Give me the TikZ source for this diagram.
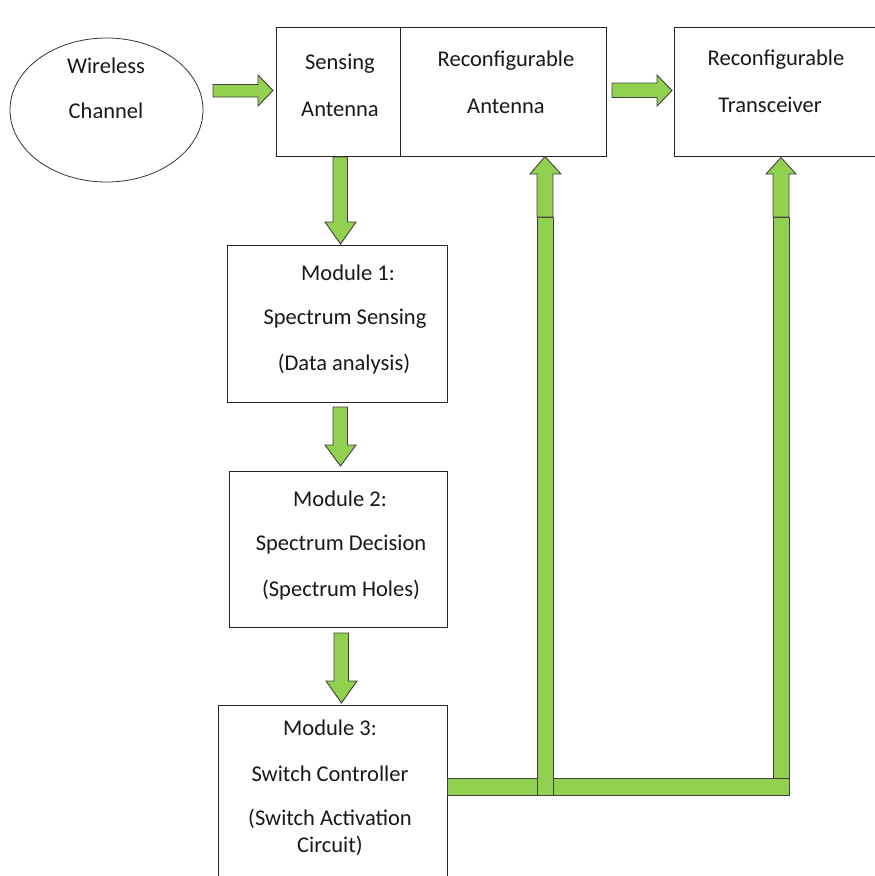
\documentclass[tikz,border=0pt]{standalone}
\usepackage{fontspec}
\setmainfont{Carlito}
\usetikzlibrary{shapes.geometric}
\definecolor{agreen}{HTML}{92D050}
\begin{document}
\begin{tikzpicture}[x=1pt,y=-1pt,
  box/.style={draw=black!85,line width=0.9pt,fill=white,inner sep=0pt,outer sep=0pt},
  blk/.style={fill=agreen,draw=black!75,line width=0.9pt,line join=miter},
  txt/.style={font=\fontsize{22.5}{28}\selectfont,inner sep=0pt,text=black!90,align=center}]
\useasboundingbox (0,0) rectangle (875,876);
% ellipse
\node[ellipse,draw=black!80,line width=0.8pt,minimum width=193pt,minimum height=144pt,inner sep=0pt] (wc) at (106.5,110) {};
\node[txt] (wc1) at (106,66) {Wireless};
\node[txt] (wc2) at (106,111) {Channel};
% top boxes
\node[box,minimum width=330pt,minimum height=129pt] (antbox) at (441,91.5) {};
\draw[black!85,line width=0.9pt] (antbox.north west) ++(124pt,0) coordinate (div) -- (div |- antbox.south);
\node[txt] (sa1) at (340,64) {Sensing};
\node[txt] (sa2) at (340,109) {Antenna};
\node[txt] (ra1) at (506,61) {Reconfigurable};
\node[txt] (ra2) at (506,106) {Antenna};
\node[box,minimum width=202pt,minimum height=129pt] (rtbox) at (775,91.5) {};
\node[txt] (rt1) at (776,60) {Reconfigurable};
\node[txt] (rt2) at (770,105) {Transceiver};
% modules
\node[box,minimum width=220pt,minimum height=157pt] (m1) at (337,323.5) {};
\node[txt] (m1a) at (348,273) {Module 1:};
\node[txt] (m1b) at (345,319) {Spectrum Sensing};
\node[txt] (m1c) at (344,364) {(Data analysis)};
\node[box,minimum width=218pt,minimum height=156pt] (m2) at (338,549) {};
\node[txt] (m2a) at (340,499) {Module 2:};
\node[txt] (m2b) at (341,545) {Spectrum Decision};
\node[txt] (m2c) at (341,590) {(Spectrum Holes)};
\node[box,minimum width=229pt,minimum height=175pt] (m3) at (332.5,792.5) {};
\node[txt] (m3a) at (330,728) {Module 3:};
\node[txt] (m3b) at (330,774) {Switch Controller};
\node[txt] (m3c) at (330,819) {(Switch Activation};
\node[txt] (m3d) at (330,846) {Circuit)};
% right arrows
\draw[blk] (213,84.5) -- (258,84.5) -- (258,75) -- (273,90.5) -- (258,106) -- (258,97) -- (213,97) -- cycle;
\draw[blk] (612,83) -- (657,83) -- (657,75) -- (672,90.5) -- (657,106) -- (657,97.5) -- (612,97.5) -- cycle;
% down arrows
\draw[blk] (333,157) -- (347.5,157) -- (347.5,222) -- (356,222) -- (340.5,244) -- (325,222) -- (333,222) -- cycle;
\draw[blk] (333,407) -- (347.5,407) -- (347.5,445) -- (356,445) -- (340.5,466) -- (325,445) -- (333,445) -- cycle;
\draw[blk] (334,633) -- (348.5,633) -- (348.5,681) -- (357,681) -- (341.5,703) -- (326,681) -- (334,681) -- cycle;
% feedback bars
\draw[blk] (447,778) rectangle (789,795);
\draw[blk] (773,217) rectangle (789,778);
\draw[blk] (537,217) rectangle (553,795);
% up arrows
\draw[blk] (537,217) -- (537,174) -- (530,174) -- (545,156.5) -- (561,174) -- (553,174) -- (553,217) -- cycle;
\draw[blk] (773,217) -- (773,174) -- (766,174) -- (781,157.5) -- (796,174) -- (789,174) -- (789,217) -- cycle;
\end{tikzpicture}
\end{document}
